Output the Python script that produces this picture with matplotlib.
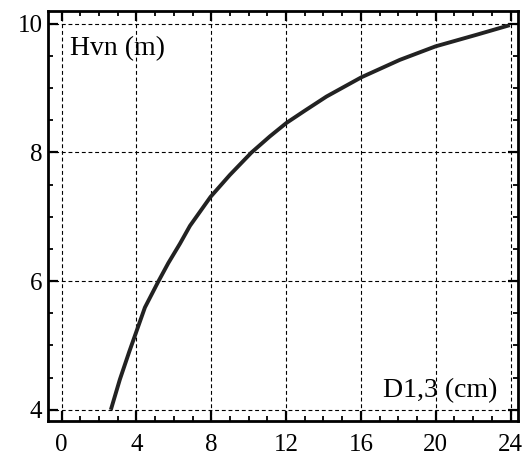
import matplotlib
matplotlib.use("Agg")
import matplotlib.pyplot as plt
from matplotlib.ticker import MultipleLocator

plt.rcParams['font.family'] = ['Liberation Serif', 'DejaVu Serif']

# Data
d13 = [2.63, 3.11, 3.61, 4.0, 4.45, 5.16, 5.70, 6.32, 6.86, 7.96, 8.99, 10.15, 11.13,
       12.02, 13.0, 14.16, 16.03, 18.08, 19.99, 22.18, 23.96]
hvn = [4.0, 4.47, 4.90, 5.22, 5.59, 5.99, 6.28, 6.58, 6.86, 7.31, 7.65, 8.0, 8.25,
       8.46, 8.65, 8.87, 9.17, 9.44, 9.65, 9.83, 9.98]
x_ticks = [0, 4, 8, 12, 16, 20, 24]
y_ticks = [4, 6, 8, 10]
y_label = "Hvn (m)"
x_label = "D1,3 (cm)"

fig = plt.figure(figsize=(5.3, 4.58), dpi=100)
ax = fig.add_axes([0.0906, 0.080, 0.8864, 0.896])

ax.plot(d13, hvn, color='#222222', linewidth=2.8, solid_capstyle='butt', solid_joinstyle='round')

ax.set_xlim(-0.73, 24.39)
ax.set_ylim(3.82, 10.2)
ax.set_xticks(x_ticks)
ax.set_yticks(y_ticks)
ax.xaxis.set_minor_locator(MultipleLocator(1))
ax.yaxis.set_minor_locator(MultipleLocator(0.5))
ax.tick_params(which='both', direction='in', top=True, right=True, labelsize=18, colors='black')
ax.tick_params(which='major', length=7, width=1.6)
ax.tick_params(axis='x', which='major', pad=9)
ax.tick_params(axis='y', which='major', pad=4)
ax.tick_params(which='minor', length=3.6, width=1.3)
ax.grid(True, which='major', linestyle=(0, (3.5, 2.5)), color='black', linewidth=0.8)
for s in ax.spines.values():
    s.set_linewidth(2.0)
    s.set_color('black')

ax.text(0.047, 0.94, y_label, transform=ax.transAxes, fontsize=20, ha='left', va='top')
ax.text(0.957, 0.045, x_label, transform=ax.transAxes, fontsize=20, ha='right', va='bottom')

fig.savefig("out.png", dpi=100)
